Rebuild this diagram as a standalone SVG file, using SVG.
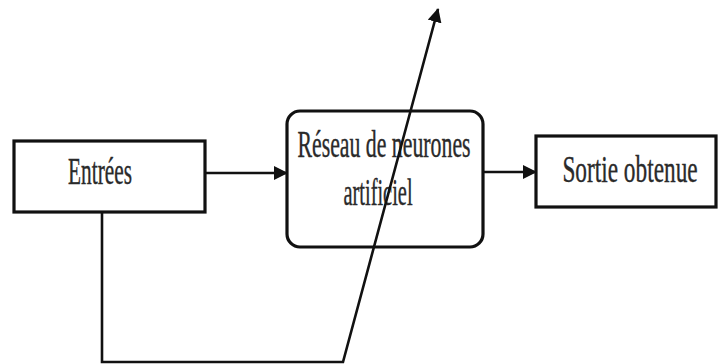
<svg xmlns="http://www.w3.org/2000/svg" width="719" height="364" viewBox="0 0 719 364">
<style>
.box{fill:#fff;stroke:#111;stroke-width:3.2}
.t{font-family:"Liberation Serif","Times New Roman",serif;font-size:38px;fill:#2a2a2a;stroke:#2a2a2a;stroke-width:0.4;text-anchor:middle}
.c{fill:none;stroke:#111;stroke-width:2.6}
</style>
<defs>
<marker id="ah" markerWidth="14" markerHeight="14" refX="13" refY="7" orient="auto" markerUnits="userSpaceOnUse">
<path d="M0,0 L14,7 L0,14 Z" fill="#111"/>
</marker>
</defs>
<rect width="719" height="364" fill="#fff"/>
<g id="entrees">
<rect class="box" x="14" y="141" width="191" height="71"/>
<text class="t" transform="translate(100,184) scale(0.561,1)" textLength="114" lengthAdjust="spacingAndGlyphs">Entrées</text>
</g>
<g id="reseau">
<rect class="box" x="287" y="111" width="196" height="136" rx="13" ry="13"/>
<text class="t" transform="translate(384,157) scale(0.573,1)" textLength="302" lengthAdjust="spacingAndGlyphs">Réseau de neurones</text>
<text class="t" transform="translate(378,205) scale(0.536,1)" textLength="129" lengthAdjust="spacingAndGlyphs">artificiel</text>
</g>
<g id="sortie">
<rect class="box" x="536" y="136" width="180" height="71"/>
<text class="t" transform="translate(630,182) scale(0.612,1)" textLength="221" lengthAdjust="spacingAndGlyphs">Sortie obtenue</text>
</g>
<g id="connectors">
<line class="c" x1="205" y1="173" x2="287" y2="173" marker-end="url(#ah)"/>
<line class="c" x1="483" y1="172" x2="536" y2="172" marker-end="url(#ah)"/>
<polyline class="c" points="102,212 102,362 343,362 438,9" marker-end="url(#ah)"/>
</g>
</svg>
